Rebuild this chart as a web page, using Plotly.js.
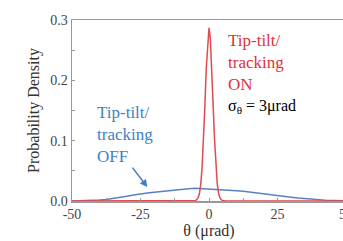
<!DOCTYPE html>
<html>
<head>
<meta charset="utf-8">
<script src="https://cdn.plot.ly/plotly-3.0.1.min.js"></script>
<style>
html,body{margin:0;padding:0;overflow:hidden;background:#fff;width:343px;height:241px;}
#chart{position:absolute;left:0;top:0;width:358px;height:241px;}
</style>
</head>
<body>
<div id="chart"></div>
<script>
// Tip-tilt/tracking OFF (broad distribution)
const offTheta = [-50,-47.5,-45,-42.5,-40,-37.5,-35,-32.5,-30,-27.5,-25,-22.5,-20,-17.5,-15,-12.5,-10,-7.5,-5,-2.5,0,2.5,5,7.5,10,12.5,15,17.5,20,22.5,25,27.5,30,32.5,35,37.5,40,42.5,45,47.5,50];
const offDensity = [0.0002,0.0003,0.0005,0.0008,0.0015,0.0025,0.0040,0.0058,0.0078,0.0098,0.0118,0.0132,0.0145,0.0158,0.0172,0.0183,0.0195,0.0203,0.0210,0.0205,0.0198,0.0194,0.0188,0.0180,0.0171,0.0160,0.0148,0.0135,0.0120,0.0106,0.0092,0.0078,0.0064,0.0051,0.0040,0.0030,0.0021,0.0014,0.0009,0.0005,0.0003];
// Tip-tilt/tracking ON (narrow peak)
const onTheta = [-50,-10,-6,-5,-4.5,-4,-3.5,-3,-2.5,-2,-1.5,-1,-0.5,0,0.5,1,1.5,2,2.5,3,3.5,4,4.5,5,6,10,50];
const onDensity = [0,0,0.0002,0.0008,0.002,0.005,0.012,0.028,0.057,0.102,0.158,0.220,0.266,0.287,0.268,0.222,0.160,0.104,0.058,0.029,0.013,0.005,0.002,0.0008,0.0002,0,0];

const xTickVals = [-50,-25,0,25,50];
const xTickText = ['-50','-25','0','25','50'];
const yTickVals = [0,0.1,0.2,0.3];
const yTickText = ['0.0','0.1','0.2','0.3'];

const blue = '#3f7fc1';
const red = '#e04a50';
const serif = '"Liberation Serif", "DejaVu Serif", "Times New Roman", Times, serif';

const traces = [
  {x: offTheta, y: offDensity, type:'scatter', mode:'lines', line:{color:'#5a80c4', width:1.5}, hoverinfo:'skip'},
  {x: onTheta, y: onDensity, type:'scatter', mode:'lines', line:{color:red, width:1.5}, hoverinfo:'skip'}
];

const layout = {
  width: 358, height: 241,
  margin: {l:72, r:12, t:20, b:40},
  paper_bgcolor:'#fff', plot_bgcolor:'#fff',
  showlegend:false,
  font:{family:serif, color:'#333', size:13},
  xaxis:{
    range:[-50,50], showgrid:false, zeroline:false,
    showline:true, linecolor:'#999', linewidth:1.5, mirror:true,
    tickmode:'array', tickvals:xTickVals, ticktext:xTickText,
    ticks:'inside', ticklen:3, tickcolor:'#999',
    minor:{dtick:12.5, tick0:0, ticks:'inside', ticklen:3, tickcolor:'#999'},
    tickfont:{family:serif, size:14, color:'#444'},
    title:{text:'θ (μrad)', font:{family:serif, size:16, color:'#333'}, standoff:0}
  },
  yaxis:{
    range:[0,0.3], showgrid:false, zeroline:false,
    showline:true, linecolor:'#999', linewidth:1.5,
    tickmode:'array', tickvals:yTickVals, ticktext:yTickText,
    ticks:'inside', ticklen:3, tickcolor:'#999',
    minor:{dtick:0.05, tick0:0, ticks:'inside', ticklen:3, tickcolor:'#999'},
    tickfont:{family:serif, size:14, color:'#444'},
    title:{text:'Probability Density', font:{family:serif, size:16, color:'#333'}, standoff:6}
  },
  annotations:[
    {xref:'paper', yref:'paper', x:(226-72)/274, y:(201-63)/181, xanchor:'left', yanchor:'middle', align:'left',
     text:'Tip-tilt/<br>tracking<br>ON', showarrow:false, font:{family:serif, size:17, color:'#d9343c'}},
    {xref:'paper', yref:'paper', x:(226-72)/274, y:(201-106)/181, xanchor:'left', yanchor:'middle', align:'left',
     text:'σ<sub>θ</sub> = 3μrad', showarrow:false, font:{family:serif, size:16, color:'#000'}},
    {xref:'paper', yref:'paper', x:(95-72)/274, y:(201-134)/181, xanchor:'left', yanchor:'middle', align:'left',
     text:'Tip-tilt/<br>tracking<br>OFF', showarrow:false, font:{family:serif, size:17, color:blue}},
    {x:-22.5, y:0.023, xref:'x', yref:'y', text:'', showarrow:true, arrowhead:2, arrowsize:1, arrowwidth:1.5,
     arrowcolor:blue, ax:-16, ay:-21}
  ]
};

Plotly.newPlot('chart', traces, layout, {displayModeBar:false, staticPlot:true});
</script>
</body>
</html>
